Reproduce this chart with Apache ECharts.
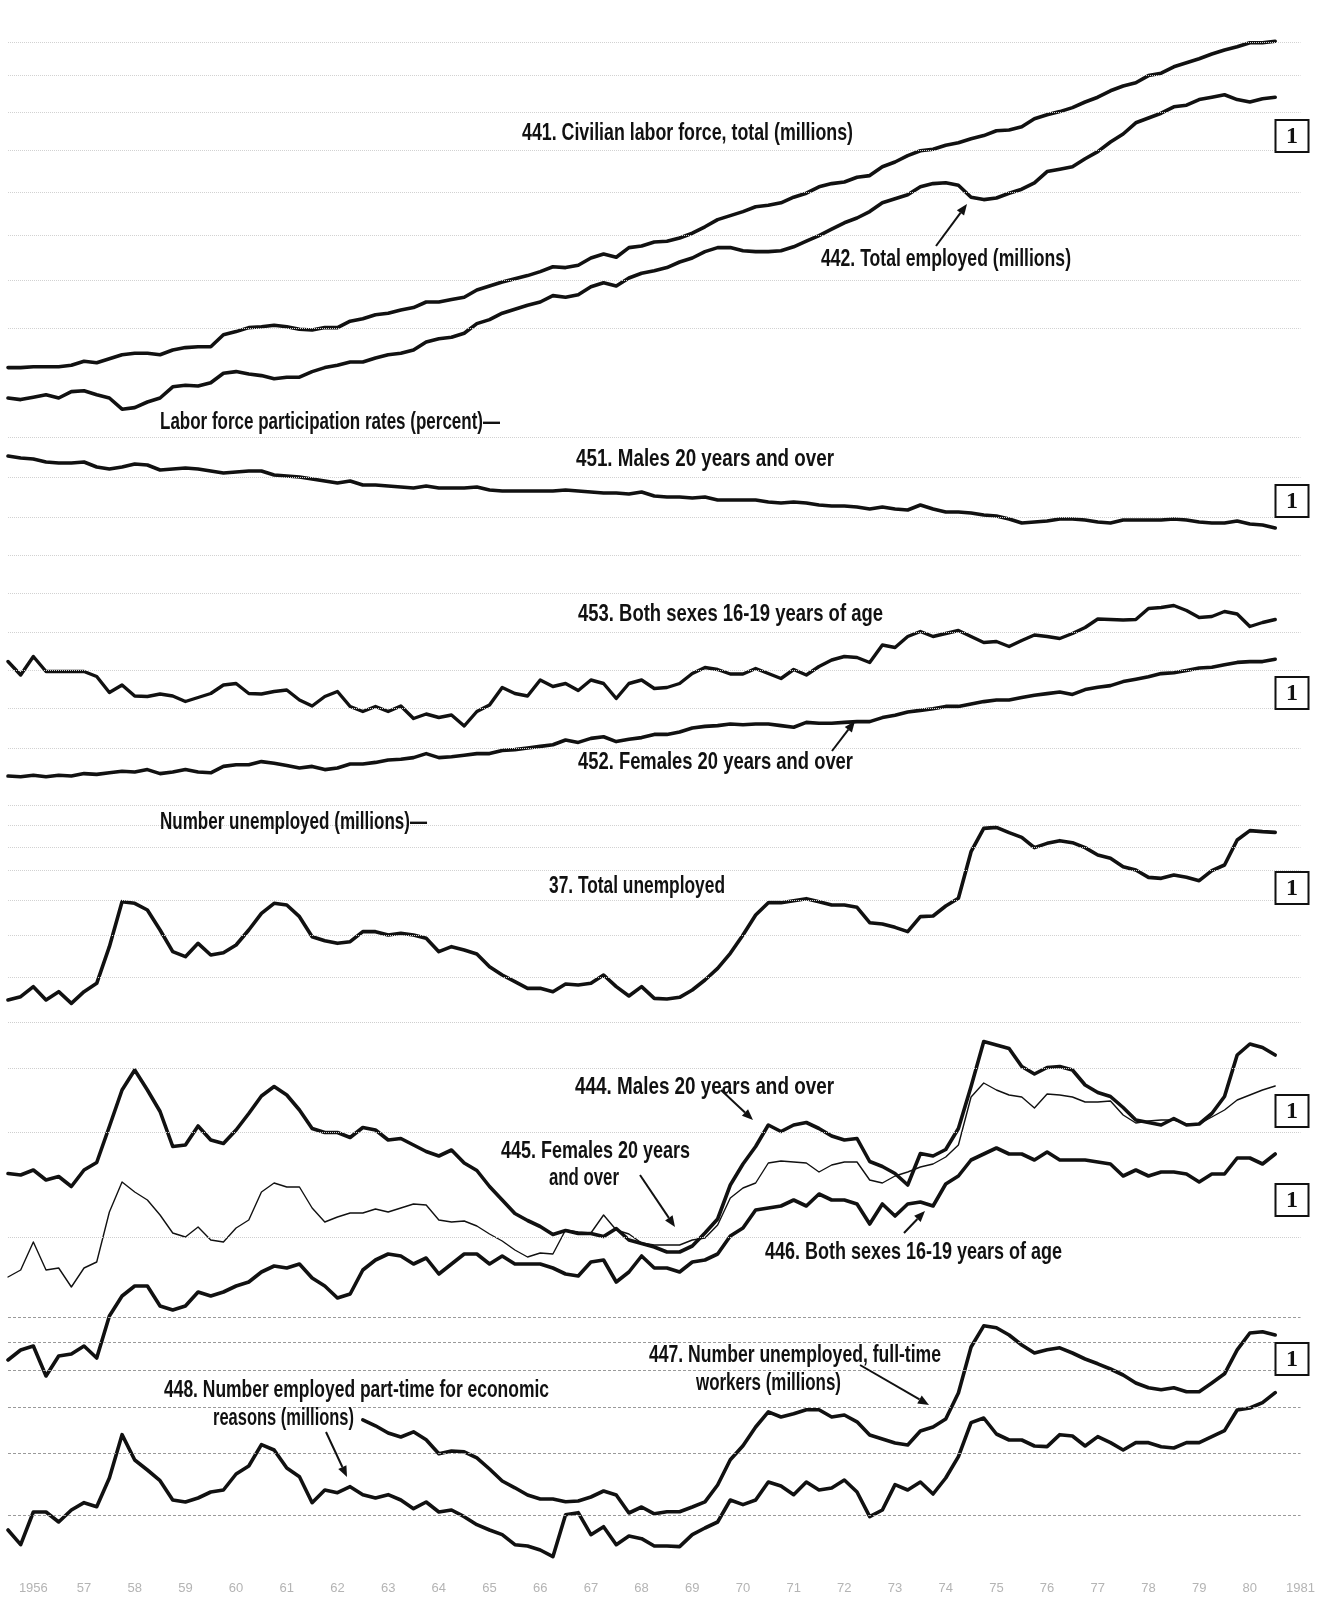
<!DOCTYPE html>
<html>
<head>
<meta charset="utf-8">
<script src="https://cdn.jsdelivr.net/npm/echarts@6/dist/echarts.min.js"></script>
<style>
html,body{margin:0;padding:0;background:#fff;}
#chart{width:1318px;height:1600px;}
</style>
</head>
<body>
<div id="chart"></div>
<script>
// ---- time axis: quarters, 1956 Q1 .. 1981 Q3 (data run to 1981 Q1) ----
const quarters = [];
for (let y = 1956; y <= 1981; y++) {
  for (let q = 1; q <= 4; q++) {
    if (y === 1981 && q > 3) break;
    quarters.push(y + '-Q' + q);
  }
}

// ---- series values (quarterly readings from the chart) ----
// 441. Civilian labor force, total (millions)
const s441 = [66.3,66.3,66.4,66.4,66.4,66.6,67.1,66.9,67.4,67.9,
  68.1,68.1,67.9,68.5,68.8,68.9,68.9,70.4,70.8,71.3,
  71.4,71.6,71.4,71.1,71.0,71.3,71.3,72.1,72.4,72.9,
  73.1,73.5,73.8,74.5,74.5,74.8,75.1,76.0,76.5,77.0,
  77.4,77.8,78.3,78.9,78.8,79.1,80.0,80.5,80.1,81.3,
  81.5,82.0,82.1,82.5,83.1,83.9,84.8,85.3,85.8,86.4,
  86.6,86.9,87.6,88.1,88.9,89.3,89.5,90.1,90.3,91.4,
  92.0,92.8,93.4,93.6,94.1,94.4,94.9,95.3,95.9,96.0,
  96.4,97.4,97.9,98.3,98.8,99.5,100.1,100.9,101.5,101.9,
  102.8,103.1,103.9,104.4,104.9,105.5,106.0,106.4,106.9,106.9,
  107.1];
// 442. Total employed (millions)
const s442 = [62.5,62.3,62.6,62.9,62.5,63.3,63.4,62.9,62.5,61.1,
  61.3,62.0,62.5,63.9,64.1,64.0,64.4,65.6,65.8,65.5,
  65.3,64.9,65.1,65.1,65.8,66.3,66.6,67.0,67.0,67.5,
  67.9,68.1,68.5,69.5,69.9,70.1,70.6,71.8,72.3,73.1,
  73.6,74.1,74.5,75.3,75.1,75.4,76.4,76.9,76.5,77.5,
  78.1,78.4,78.8,79.5,80.0,80.8,81.3,81.3,80.9,80.8,
  80.8,80.9,81.4,82.1,82.8,83.6,84.4,85.0,85.8,86.9,
  87.4,87.9,88.9,89.3,89.4,89.1,87.6,87.3,87.5,88.1,
  88.6,89.4,90.8,91.1,91.4,92.4,93.3,94.5,95.5,96.9,
  97.5,98.1,98.9,99.1,99.8,100.1,100.4,99.8,99.5,99.9,
  100.1];
// 451. Participation rate, males 20 years and over (percent)
const s451 = [85.5,85.3,85.2,84.9,84.8,84.8,84.9,84.4,84.2,84.4,
  84.7,84.6,84.1,84.2,84.3,84.2,84.0,83.8,83.9,84.0,
  84.0,83.6,83.5,83.4,83.2,83.0,82.8,83.0,82.6,82.6,
  82.5,82.4,82.3,82.5,82.3,82.3,82.3,82.4,82.1,82.0,
  82.0,82.0,82.0,82.0,82.1,82.0,81.9,81.8,81.8,81.7,
  81.9,81.5,81.4,81.4,81.3,81.4,81.1,81.1,81.1,81.1,
  80.9,80.8,80.9,80.8,80.6,80.5,80.5,80.4,80.2,80.4,
  80.2,80.1,80.6,80.2,79.9,79.9,79.8,79.6,79.5,79.2,
  78.8,78.9,79.0,79.2,79.2,79.1,78.9,78.8,79.1,79.1,
  79.1,79.1,79.2,79.1,78.9,78.8,78.8,79.0,78.7,78.6,
  78.3];
// 453. Participation rate, both sexes 16-19 years of age (percent)
const s453 = [47.1,44.4,48.1,45.1,45.1,45.1,45.1,44.1,40.9,42.4,
  40.2,40.1,40.6,40.2,39.1,39.9,40.7,42.4,42.7,40.7,
  40.6,41.1,41.4,39.4,38.2,40.1,41.1,38.1,37.1,38.1,
  37.1,38.2,35.7,36.6,35.9,36.4,34.2,37.1,38.4,41.9,
  40.7,40.2,43.4,42.1,42.7,41.3,43.4,42.7,39.7,42.7,
  43.4,41.7,41.9,42.7,44.7,45.9,45.5,44.6,44.6,45.7,
  44.7,43.7,45.5,44.4,46.1,47.4,48.1,47.9,46.9,50.4,
  49.9,52.1,53.1,52.1,52.7,53.3,52.1,50.9,51.1,50.1,
  51.3,52.4,52.1,51.7,52.7,53.9,55.6,55.5,55.4,55.5,
  57.7,57.9,58.3,57.3,55.9,56.1,57.1,56.6,54.1,54.9,
  55.5];
// 452. Participation rate, females 20 years and over (percent)
const s452 = [35.0,34.9,35.1,34.9,35.1,35.0,35.3,35.2,35.4,35.6,
  35.5,35.8,35.3,35.5,35.8,35.5,35.4,36.2,36.4,36.4,
  36.8,36.6,36.3,36.0,36.2,35.8,36.0,36.5,36.5,36.7,
  37.0,37.1,37.3,37.8,37.3,37.4,37.6,37.8,37.8,38.2,
  38.3,38.5,38.7,38.9,39.5,39.2,39.7,39.9,39.3,39.6,
  39.8,40.2,40.2,40.5,41.0,41.2,41.3,41.5,41.4,41.5,
  41.5,41.3,41.1,41.7,41.6,41.6,41.7,41.8,41.8,42.3,
  42.6,43.0,43.2,43.4,43.7,43.7,44.0,44.3,44.5,44.5,
  44.8,45.1,45.3,45.5,45.2,45.8,46.1,46.3,46.8,47.1,
  47.4,47.8,47.9,48.2,48.5,48.6,48.9,49.2,49.3,49.3,
  49.6];
// 37. Total unemployed (millions)
const s37 = [2.80,2.90,3.20,2.80,3.05,2.70,3.05,3.30,4.40,5.75,
  5.70,5.50,4.90,4.25,4.10,4.50,4.15,4.22,4.45,4.90,
  5.40,5.70,5.65,5.30,4.70,4.58,4.50,4.55,4.85,4.85,
  4.75,4.80,4.75,4.65,4.25,4.40,4.30,4.18,3.80,3.55,
  3.35,3.15,3.15,3.05,3.28,3.25,3.30,3.55,3.20,2.92,
  3.20,2.85,2.83,2.88,3.10,3.40,3.75,4.20,4.75,5.35,
  5.72,5.72,5.78,5.84,5.75,5.65,5.65,5.58,5.12,5.08,
  4.98,4.85,5.30,5.32,5.62,5.85,7.25,7.95,7.98,7.82,
  7.68,7.37,7.50,7.58,7.52,7.37,7.15,7.05,6.80,6.70,
  6.48,6.45,6.55,6.48,6.38,6.68,6.85,7.60,7.88,7.85,
  7.83];
// 444. Unemployed males 20 years and over
const s444 = [2.69,2.66,2.76,2.56,2.63,2.43,2.76,2.91,3.63,4.36,
  4.76,4.36,3.93,3.23,3.26,3.64,3.36,3.29,3.56,3.89,
  4.24,4.43,4.26,3.96,3.59,3.51,3.51,3.41,3.61,3.56,
  3.36,3.39,3.26,3.13,3.04,3.16,2.90,2.75,2.43,2.16,
  1.89,1.75,1.63,1.47,1.55,1.49,1.49,1.43,1.59,1.36,
  1.29,1.22,1.12,1.12,1.24,1.50,1.78,2.46,2.88,3.23,
  3.66,3.53,3.66,3.71,3.59,3.44,3.36,3.39,2.93,2.83,
  2.69,2.46,3.09,3.04,3.17,3.59,4.43,5.33,5.26,5.19,
  4.83,4.68,4.81,4.83,4.76,4.46,4.31,4.23,4.01,3.76,
  3.71,3.66,3.79,3.66,3.68,3.89,4.23,5.06,5.28,5.21,
  5.06];
// 445. Unemployed females 20 years and over
const s445 = [1.00,1.07,1.35,1.07,1.09,0.90,1.09,1.15,1.65,1.95,
  1.85,1.77,1.62,1.44,1.40,1.50,1.37,1.35,1.49,1.57,
  1.85,1.94,1.90,1.90,1.69,1.55,1.60,1.64,1.64,1.68,
  1.65,1.69,1.73,1.72,1.57,1.55,1.56,1.51,1.43,1.36,
  1.27,1.20,1.24,1.23,1.47,1.45,1.44,1.62,1.47,1.43,
  1.34,1.32,1.32,1.32,1.37,1.39,1.52,1.79,1.89,1.94,
  2.14,2.16,2.15,2.14,2.05,2.12,2.15,2.15,1.97,1.94,
  2.01,2.05,2.10,2.13,2.20,2.32,2.80,2.94,2.87,2.82,
  2.80,2.69,2.83,2.82,2.80,2.75,2.75,2.76,2.62,2.54,
  2.56,2.57,2.57,2.53,2.53,2.60,2.67,2.77,2.82,2.87,
  2.91];
// 446. Unemployed, both sexes 16-19 years of age
const s446 = [0.60,0.65,0.67,0.52,0.62,0.63,0.67,0.61,0.82,0.92,
  0.97,0.97,0.87,0.85,0.87,0.94,0.92,0.94,0.97,0.99,
  1.04,1.07,1.06,1.08,1.01,0.97,0.91,0.93,1.05,1.10,
  1.13,1.12,1.08,1.11,1.03,1.08,1.13,1.13,1.08,1.12,
  1.08,1.08,1.08,1.06,1.03,1.02,1.09,1.10,0.99,1.04,
  1.12,1.06,1.06,1.04,1.09,1.10,1.13,1.22,1.26,1.35,
  1.36,1.37,1.40,1.37,1.43,1.40,1.40,1.38,1.28,1.38,
  1.32,1.38,1.39,1.37,1.48,1.52,1.60,1.63,1.66,1.63,
  1.63,1.60,1.64,1.60,1.60,1.60,1.59,1.58,1.52,1.55,
  1.52,1.54,1.54,1.53,1.49,1.53,1.53,1.61,1.61,1.58,
  1.63];
// 447. Number unemployed, full-time workers (millions) - series begins 1963
const s447 = Array(28).fill(null).concat([4.63,4.48,
  4.30,4.20,4.33,4.13,3.78,3.85,3.83,3.68,3.40,3.10,
  2.93,2.75,2.65,2.65,2.58,2.60,2.70,2.85,2.75,2.30,
  2.45,2.28,2.33,2.33,2.45,2.58,3.00,3.63,3.98,4.45,
  4.83,4.70,4.78,4.88,4.88,4.70,4.75,4.58,4.25,4.15,
  4.05,4.00,4.35,4.45,4.65,5.30,6.45,6.98,6.93,6.75,
  6.50,6.30,6.38,6.43,6.30,6.15,6.03,5.90,5.75,5.55,
  5.43,5.38,5.43,5.33,5.33,5.55,5.78,6.38,6.80,6.83,
  6.75]);
// 448. Number employed part-time for economic reasons (millions)
const s448 = [2.20,1.98,2.47,2.47,2.32,2.50,2.61,2.55,2.98,3.63,
  3.25,3.10,2.94,2.65,2.62,2.68,2.77,2.80,3.04,3.16,
  3.48,3.40,3.13,3.00,2.61,2.80,2.76,2.85,2.73,2.68,
  2.73,2.65,2.52,2.62,2.47,2.50,2.40,2.28,2.20,2.13,
  1.98,1.96,1.90,1.80,2.43,2.46,2.13,2.25,1.98,2.11,
  2.07,1.96,1.96,1.95,2.13,2.23,2.32,2.65,2.58,2.65,
  2.92,2.86,2.73,2.92,2.80,2.83,2.95,2.77,2.40,2.50,
  2.88,2.80,2.92,2.74,2.98,3.30,3.81,3.88,3.64,3.55,
  3.55,3.46,3.45,3.63,3.61,3.46,3.60,3.51,3.40,3.51,
  3.51,3.45,3.43,3.51,3.51,3.60,3.69,4.00,4.03,4.11,
  4.26];

// ---- faint scale rules, in each panel's own units ----
const rulesLabor = [107, 102.9, 98.25, 93.5, 88.25, 82.9, 77.25, 71.25];
const rulesRates = [77.4, 72.4, 67.4, 62.6, 57.9, 53, 48.25, 43.5, 38.5];
const rulesTotalUnemp = [8.65, 8.05, 7.39, 6.7, 5.8, 4.75, 3.49];
const rulesGroupUnemp = [5.72, 4.8, 3.52, 1.42];
const rulesFullTime = [7.2, 6.575, 5.875, 4.95, 3.8, 2.25];

// ---- layout ----
const yRanges = [
  [-82.75, 112.25],  // 0: 441, 442
  [-24.9, 131.1],    // 1: 451
  [-132.6, 179.4],   // 2: 453
  [-63, 132],        // 3: 452
  [-14, 32.8],       // 4: 37
  [-5.04, 26.16],    // 5: 444
  [-1.83, 13.77],    // 6: 445
  [-0.4, 7.4],       // 7: 446
  [1.75, 25.15],     // 8: 448
  [1.125, 40.125]    // 9: 447
];

const INK = '#111';
function rules(vals, color, type) {
  return {
    silent: true, symbol: 'none', animation: false,
    label: { show: false },
    lineStyle: { color: color, type: type, width: 1 },
    data: vals.map(v => ({ yAxis: v }))
  };
}
function line(name, data, axis, width, mark) {
  const s = {
    name: name, type: 'line', data: data, yAxisIndex: axis,
    showSymbol: false, symbol: 'none', silent: true, connectNulls: false,
    lineStyle: { color: INK, width: width, join: 'round', cap: 'round' },
    z: 3
  };
  if (mark) s.markLine = mark;
  return s;
}

const FONT = 'bold 24px "Liberation Sans", Arial, sans-serif';
const measureCtx = document.createElement('canvas').getContext('2d');
measureCtx.font = FONT;
function label(text, left, right, cy) {
  const w = measureCtx.measureText(text).width;
  return {
    type: 'text', x: left, y: cy, scaleX: (right - left) / w, silent: true, z: 10,
    style: { text: text, font: FONT, fill: INK, textAlign: 'left', verticalAlign: 'middle' }
  };
}
function arrow(x1, y1, x2, y2) {
  const dx = x2 - x1, dy = y2 - y1, len = Math.hypot(dx, dy);
  const ux = dx / len, uy = dy / len, hl = 11, hw = 4.5;
  const bx = x2 - ux * hl, by = y2 - uy * hl;
  return [
    { type: 'line', silent: true, z: 10, shape: { x1: x1, y1: y1, x2: bx, y2: by },
      style: { stroke: INK, lineWidth: 2 } },
    { type: 'polygon', silent: true, z: 10,
      shape: { points: [[x2, y2], [bx - uy * hw, by + ux * hw], [bx + uy * hw, by - ux * hw]] },
      style: { fill: INK } }
  ];
}
function box(cx, cy) {
  return [
    { type: 'rect', silent: true, z: 10, shape: { x: cx - 16.5, y: cy - 16, width: 33, height: 32 },
      style: { fill: '#fff', stroke: INK, lineWidth: 2 } },
    { type: 'text', silent: true, z: 11, x: cx, y: cy + 1,
      style: { text: '1', font: 'bold 24px "Liberation Serif", serif', fill: INK,
               textAlign: 'center', verticalAlign: 'middle' } }
  ];
}

const labels = [
  ['441. Civilian labor force, total (millions)', 522, 853, 133],
  ['442. Total employed (millions)', 821, 1071, 259],
  ['Labor force participation rates (percent)\u2014', 160, 500, 422],
  ['451. Males 20 years and over', 576, 834, 459],
  ['453. Both sexes 16-19 years of age', 578, 883, 614],
  ['452. Females 20 years and over', 578, 853, 762],
  ['Number unemployed (millions)\u2014', 160, 427, 822],
  ['37. Total unemployed', 549, 725, 886],
  ['444. Males 20 years and over', 575, 834, 1087],
  ['445. Females 20 years', 501, 690, 1151],
  ['and over', 549, 619, 1178],
  ['446. Both sexes 16-19 years of age', 765, 1062, 1252],
  ['447. Number unemployed, full-time', 649, 941, 1355],
  ['workers (millions)', 696, 841, 1383],
  ['448. Number employed part-time for economic', 164, 549, 1390],
  ['reasons (millions)', 213, 354, 1418]
];
const arrows = [
  [936, 246, 967, 204],
  [832, 751, 855, 721],
  [721, 1090, 753, 1120],
  [640, 1175, 675, 1227],
  [904, 1233, 925, 1211],
  [860, 1365, 929, 1405],
  [326, 1432, 347, 1477]
];
const boxes = [136, 501, 693, 888, 1111, 1200, 1359];

let graphics = [];
labels.forEach(l => graphics.push(label(l[0], l[1], l[2], l[3])));
arrows.forEach(a => graphics = graphics.concat(arrow(a[0], a[1], a[2], a[3])));
boxes.forEach(cy => graphics = graphics.concat(box(1292, cy)));

const chart = echarts.init(document.getElementById('chart'), null, { renderer: 'canvas' });
chart.setOption({
  backgroundColor: '#fff',
  animation: false,
  grid: { left: 8, right: 17.1, top: 0, bottom: 40, containLabel: false },
  xAxis: {
    type: 'category', data: quarters, boundaryGap: false,
    axisLine: { show: false }, axisTick: { show: false }, splitLine: { show: false },
    axisLabel: {
      interval: (i) => i % 4 === 2,
      formatter: (v) => { const y = v.slice(0, 4); return (y === '1956' || y === '1981') ? y : y.slice(2); },
      color: '#b4b4b4', fontSize: 13, margin: 22, fontFamily: 'Liberation Sans'
    }
  },
  yAxis: yRanges.map(r => ({ type: 'value', show: false, min: r[0], max: r[1], splitLine: { show: false } })),
  series: [
    line('441', s441, 0, 3.6, rules(rulesLabor, '#d2d2d2', 'dotted')),
    line('442', s442, 0, 3.6),
    line('451', s451, 1, 3.6),
    line('453', s453, 2, 3.4),
    line('452', s452, 3, 3.6, rules(rulesRates, '#d2d2d2', 'dotted')),
    line('37', s37, 4, 3.6, rules(rulesTotalUnemp, '#d2d2d2', 'dotted')),
    line('444', s444, 5, 3.6, rules(rulesGroupUnemp, '#cfcfcf', 'dotted')),
    line('445', s445, 6, 1.4),
    line('446', s446, 7, 3.6),
    line('448', s448, 8, 3.6),
    line('447', s447, 9, 3.6, rules(rulesFullTime, '#9a9a9a', [3, 2]))
  ],
  graphic: graphics
});
</script>
</body>
</html>
